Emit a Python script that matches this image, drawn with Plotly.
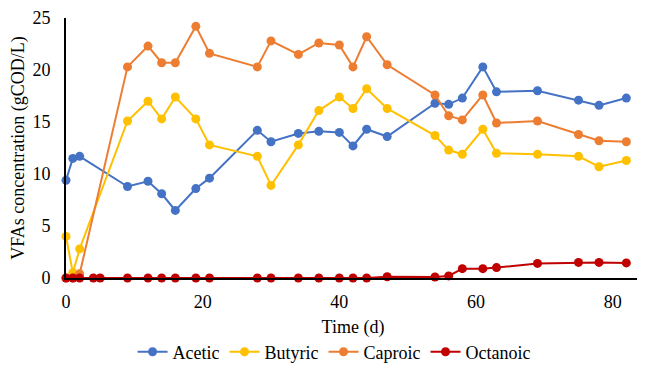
import plotly.graph_objects as go

days_main = [0, 1, 2, 9, 12, 14, 16, 19, 21, 28, 30, 34, 37, 40, 42, 44, 47, 54, 56, 58, 61, 63, 69, 75, 78, 82]
days_oct = [0, 1, 2, 4, 5, 9, 12, 14, 16, 19, 21, 28, 30, 34, 37, 40, 42, 44, 47, 54, 56, 58, 61, 63, 69, 75, 78, 82]

acetic = [9.4, 11.5, 11.7, 8.8, 9.3, 8.1, 6.5, 8.6, 9.6, 14.2, 13.1, 13.9, 14.1, 14.0, 12.7, 14.3, 13.6,
          16.8, 16.7, 17.3, 20.3, 17.9, 18.0, 17.1, 16.6, 17.3]
butyric = [4.0, 0.5, 2.8, 15.1, 17.0, 15.3, 17.4, 15.3, 12.8, 11.7, 8.9, 12.8, 16.1, 17.4, 16.3, 18.2, 16.3,
           13.7, 12.3, 11.9, 14.3, 12.0, 11.9, 11.7, 10.7, 11.3]
caproic = [0.0, 0.0, 0.4, 20.3, 22.3, 20.7, 20.7, 24.2, 21.6, 20.3, 22.8, 21.5, 22.6, 22.4, 20.3, 23.2, 20.5,
           17.6, 15.6, 15.2, 17.6, 14.9, 15.1, 13.8, 13.2, 13.1]
octanoic = [0, 0, 0, 0, 0, 0, 0, 0, 0, 0, 0, 0, 0, 0, 0, 0, 0, 0, 0.12, 0.1, 0.2,
            0.9, 0.9, 1.0, 1.4, 1.5, 1.5, 1.45]

series = [
    ("Acetic", days_main, acetic, "#4472C4"),
    ("Butyric", days_main, butyric, "#FFC000"),
    ("Caproic", days_main, caproic, "#ED7D31"),
    ("Octanoic", days_oct, octanoic, "#C00000"),
]

fig = go.Figure()
for name, x, y, c in series:
    fig.add_trace(go.Scatter(
        x=x, y=y, name=name, mode="lines+markers",
        line=dict(color=c, width=2),
        marker=dict(color=c, size=9),
        cliponaxis=False,
    ))

font = "Liberation Serif"
fig.update_layout(
    width=645, height=375,
    margin=dict(l=58, r=13, t=10, b=105, autoexpand=False),
    plot_bgcolor="white", paper_bgcolor="white",
    font=dict(family=font, size=18, color="black"),
    showlegend=True,
    legend=dict(orientation="h", x=0.467, xanchor="center", y=-0.285, yanchor="middle",
                font=dict(family=font, size=18), itemwidth=30, tracegroupgap=0),
    xaxis=dict(range=[0, 84], tickvals=[0, 20, 40, 60, 80], showgrid=False, zeroline=False,
               showline=True, linecolor="black", linewidth=2, ticks="", automargin=False,
               ticklabelstandoff=6, tickfont=dict(family=font, size=18),
               title=dict(text="Time (d)", font=dict(family=font, size=18), standoff=10)),
    yaxis=dict(range=[0, 25], tickvals=[0, 5, 10, 15, 20, 25], showgrid=False, zeroline=False,
               showline=True, linecolor="black", linewidth=2, ticks="", automargin=False,
               ticklabelstandoff=10, tickfont=dict(family=font, size=18),
               title=dict(text="VFAs concentration (gCOD/L)", font=dict(family=font, size=18), standoff=6)),
)

fig.write_html("out.html")
